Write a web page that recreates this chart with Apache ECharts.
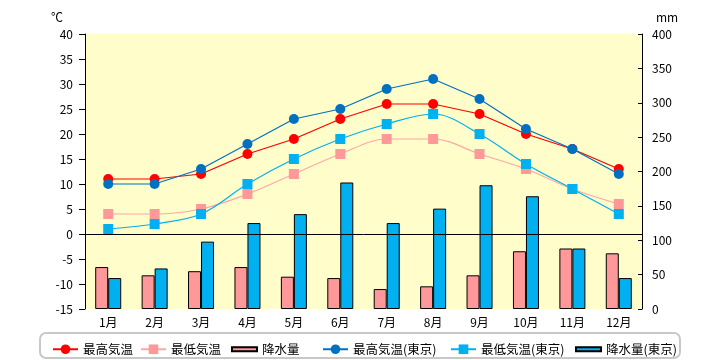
<!DOCTYPE html>
<html><head><meta charset="utf-8">
<script src="https://cdn.jsdelivr.net/npm/echarts@6/dist/echarts.min.js"></script>
<style>html,body{margin:0;padding:0;background:#fff}#c{width:720px;height:360px}</style>
</head><body><div id="c"></div>
<script>
const months = ['1月','2月','3月','4月','5月','6月','7月','8月','9月','10月','11月','12月'];
const maxTemp = [11, 11, 12, 16, 19, 23, 26, 26, 24, 20, 17, 13];
const minTemp = [4, 4, 5, 8, 12, 16, 19, 19, 16, 13, 9, 6];
const rain = [61, 49, 55, 61, 47, 45, 29, 33, 49, 84, 88, 81];
const maxTempTokyo = [10, 10, 13, 18, 23, 25, 29, 31, 27, 21, 17, 12];
const minTempTokyo = [1, 2, 4, 10, 15, 19, 22, 24, 20, 14, 9, 4];
const rainTokyo = [45, 59, 98, 125, 138, 184, 125, 146, 180, 164, 88, 45];
const names = ['最高気温','最低気温','降水量','最高気温(東京)','最低気温(東京)','降水量(東京)'];

const FONT = '"Noto Sans CJK JP", sans-serif';
const chart = echarts.init(document.getElementById('c'), null, {renderer:'canvas'});
const barIcon = 'path://M0,0h50v8h-50z';
const legendLefts = [47, 135, 226, 317, 445, 570];
const legends = names.map((n,i)=>({
  data:[ (i===2||i===5) ? {name:n, icon:barIcon} : {name:n} ],
  left: legendLefts[i], top: 338, itemWidth: 25, itemHeight: 12,
  symbolKeepAspect: true,
  textStyle:{fontFamily:FONT, fontSize:12.5, color:'#000'},
  selectedMode:false
}));
function lineS(name, data, color, symbol, smooth, lineColor){
  return {name, type:'line', data, yAxisIndex:0, smooth: smooth ? 0.35 : false,
    symbol, symbolSize: 10,
    itemStyle:{color}, lineStyle:{color: lineColor||color, width:1.2}, z:5};
}
const option = {
  animation:false,
  textStyle:{fontFamily:FONT},
  grid:{left:85, right:78, top:34, bottom:51, show:true, backgroundColor:'#FFFDC9', borderWidth:0},
  legend: legends,
  graphic:[
    {type:'rect', shape:{x:40, y:333, width:640, height:25, r:6}, style:{fill:'#fff', stroke:'#C8C8C8', lineWidth:2}, z:-1},
    {type:'text', style:{text:'℃', x:57, y:17, align:'center', verticalAlign:'middle', font:'12px '+FONT, fill:'#000'}},
    {type:'text', style:{text:'mm', x:667, y:17, align:'center', verticalAlign:'middle', font:'12px '+FONT, fill:'#000'}}
  ],
  xAxis:{type:'category', data:months, axisLine:{show:false}, axisTick:{show:false},
    axisLabel:{color:'#000', fontSize:12, fontFamily:FONT, margin:7}},
  yAxis:[
    {type:'value', min:-15, max:40, interval:5, position:'left',
      axisLine:{show:true, lineStyle:{color:'#000', width:1}},
      axisTick:{show:true, length:6, lineStyle:{color:'#000'}},
      axisLabel:{color:'#000', fontSize:12, fontFamily:FONT, margin:12},
      splitLine:{show:false}},
    {type:'value', min:0, max:400, interval:50, position:'right',
      axisLine:{show:true, lineStyle:{color:'#000', width:1}},
      axisTick:{show:true, inside:true, length:4, lineStyle:{color:'#000'}},
      axisLabel:{color:'#000', fontSize:12, fontFamily:FONT, margin:10},
      splitLine:{show:false}}
  ],
  series:[
    Object.assign(lineS(names[0], maxTemp, '#FF0000', 'circle', false), {
      markLine:{silent:true, symbol:'none', label:{show:false}, animation:false,
        lineStyle:{color:'#000', width:1, type:'solid'}, data:[{yAxis:0}]}}),
    lineS(names[1], minTemp, '#FF9999', 'rect', true, '#FFA8A8'),
    {name:names[2], type:'bar', yAxisIndex:1, data:rain, barWidth:13, barGap:'0%',
      itemStyle:{color:'#FF9999', borderColor:'#000', borderWidth:1}, z:2},
    lineS(names[3], maxTempTokyo, '#0070C0', 'circle', false),
    lineS(names[4], minTempTokyo, '#00B0F0', 'rect', true),
    {name:names[5], type:'bar', yAxisIndex:1, data:rainTokyo, barWidth:13, barGap:'0%',
      itemStyle:{color:'#00B0F0', borderColor:'#000', borderWidth:1}, z:2}
  ]
};
chart.setOption(option);
</script></body></html>
